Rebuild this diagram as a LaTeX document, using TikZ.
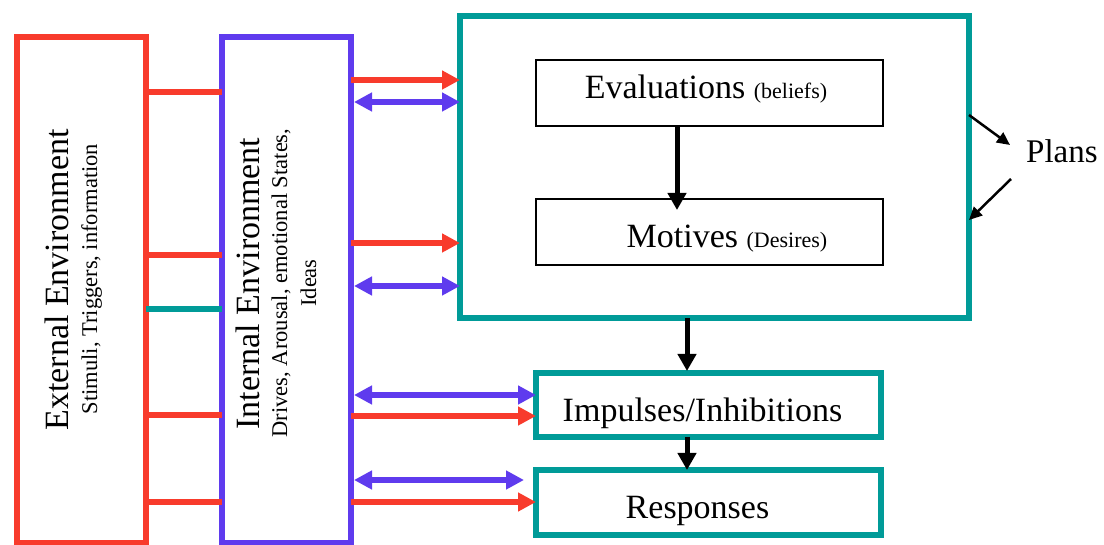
\documentclass[tikz,border=0pt]{standalone}
\usepackage{fontspec}
\setmainfont{Liberation Serif}
\usetikzlibrary{arrows.meta}
\definecolor{extred}{HTML}{F83B2C}
\definecolor{intblue}{HTML}{5F3BEE}
\definecolor{tealframe}{HTML}{009B98}

\begin{document}
\begin{tikzpicture}[x=1pt,y=-1pt,
  frame/.style={draw, rectangle, inner sep=0pt, outer sep=0pt},
  bigtxt/.style={inner sep=0pt, font=\fontsize{34}{40}\selectfont},
  smalltxt/.style={inner sep=0pt, font=\fontsize{22.5}{27}\selectfont},
  link/.style={line width=5.5pt},
  onehead/.style={link, -{Triangle[length=18pt,width=18pt]}},
  twohead/.style={link, {Triangle[length=18pt,width=18pt]}-{Triangle[length=18pt,width=18pt]}, shorten <=3pt},
  flow/.style={line width=5pt, -{Triangle[length=17pt,width=18pt]}},
  planarrow/.style={line width=2.5pt, -{Triangle[length=13pt,width=12pt]}},
]
\useasboundingbox (0,0) rectangle (1104,545);

% environment columns
\node[frame, draw=extred, line width=5.5pt, minimum width=129pt, minimum height=506pt] (ext) at (81.5,290) {};
\node[frame, draw=intblue, line width=5.5pt, minimum width=129pt, minimum height=506pt] (int) at (286.5,290) {};

% cognitive block
\node[frame, draw=tealframe, line width=6pt, minimum width=509pt, minimum height=302pt] (big) at (714.5,167) {};
\node[frame, draw=black, line width=2pt, minimum width=347pt, minimum height=66pt] (eval) at (709.5,93) {};
\node[frame, draw=black, line width=2pt, minimum width=347pt, minimum height=66pt] (mot) at (709.5,232) {};

% outcome boxes
\node[frame, draw=tealframe, line width=6pt, minimum width=345pt, minimum height=64pt] (imp) at (708.5,405) {};
\node[frame, draw=tealframe, line width=6pt, minimum width=345pt, minimum height=65pt] (resp) at (708.5,502.5) {};

% texts
\node[bigtxt, rotate=90, anchor=base] (exttitle) at (68,280) {External Environment};
\node[smalltxt, rotate=90, anchor=base] (extsub) at (97,279) {Stimuli, Triggers, information};
\node[bigtxt, rotate=90, anchor=base] (inttitle) at (259,283.5) {Internal Environment};
\node[smalltxt, rotate=90, anchor=base] (intsub) at (287,283) {Drives, Arousal, emotional States,};
\node[smalltxt, rotate=90, anchor=base] (intsubb) at (316,283) {Ideas};

\node[bigtxt, anchor=base] (evaltxt) at (706,99) {Evaluations {\fontsize{22}{26}\selectfont (beliefs)}};
\node[bigtxt, anchor=base] (mottxt) at (727,248) {Motives {\fontsize{22}{26}\selectfont (Desires)}};
\node[bigtxt, anchor=base] (imptxt) at (702.5,422) {Impulses/Inhibitions};
\node[bigtxt, anchor=base] (resptxt) at (697.5,518) {Responses};
\node[inner sep=0pt, anchor=base west, font=\fontsize{33}{40}\selectfont] (plans) at (1026,163) {Plans};

% links between the two environments
\draw[link, extred] (ext.east |- 0,92) -- (int.west |- 0,92);
\draw[link, extred] (ext.east |- 0,255) -- (int.west |- 0,255);
\draw[link, tealframe] (ext.east |- 0,309) -- (int.west |- 0,309);
\draw[link, extred] (ext.east |- 0,415) -- (int.west |- 0,415);
\draw[link, extred] (ext.east |- 0,502) -- (int.west |- 0,502);

% links from the internal environment
\draw[onehead, extred] (int.east |- 0,80) -- (big.west |- 0,80);
\draw[twohead, intblue] (int.east |- 0,102) -- (big.west |- 0,102);
\draw[onehead, extred] (int.east |- 0,243) -- (big.west |- 0,243);
\draw[twohead, intblue] (int.east |- 0,286) -- (big.west |- 0,286);
\draw[twohead, intblue] (int.east |- 0,395) -- (imp.west |- 0,395);
\draw[onehead, extred] (int.east |- 0,416) -- (imp.west |- 0,416);
\draw[twohead, intblue, shorten >=12pt] (int.east |- 0,480) -- (resp.west |- 0,480);
\draw[onehead, extred] (int.east |- 0,502) -- (resp.west |- 0,502);

% main flow
\draw[flow, shorten >=-11pt] (eval.south -| 677,0) -- (mot.north -| 677,0);
\draw[flow, shorten >=2pt] (big.south -| 687,0) -- (imp.north -| 687,0);
\draw[flow] (imp.south -| 687,0) -- (resp.north -| 687,0);

% plans loop
\coordinate (plansin) at (1010,145);
\coordinate (plansout) at (1011,179);
\draw[planarrow] (big.east |- 0,115) -- (plansin);
\draw[planarrow] (plansout) -- (big.east |- 0,220);
\end{tikzpicture}
\end{document}
